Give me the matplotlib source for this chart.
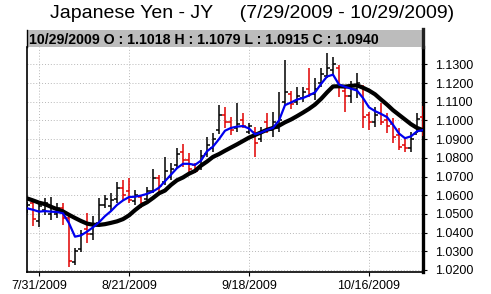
import matplotlib
matplotlib.use("Agg")
import matplotlib.pyplot as plt
from matplotlib.patches import Rectangle
import numpy as np

plt.rcParams['font.family'] = ['Liberation Sans', 'DejaVu Sans']

# ---------------- data ----------------
title = "Japanese Yen - JY     (7/29/2009 - 10/29/2009)"
header = "10/29/2009 O : 1.1018 H : 1.1079 L : 1.0915 C : 1.0940"

tick_idx = [2, 17, 37, 57]
tick_labels = ["7/31/2009", "8/21/2009", "9/18/2009", "10/16/2009"]

opens = [1.0520, 1.0560, 1.0460, 1.0520, 1.0500, 1.0500, 1.0530, 1.0480, 1.0240, 1.0310,
         1.0420, 1.0390, 1.0450, 1.0550, 1.0540, 1.0580, 1.0640, 1.0620, 1.0570, 1.0590,
         1.0580, 1.0620, 1.0690, 1.0670, 1.0700, 1.0760, 1.0830, 1.0790, 1.0760, 1.0750,
         1.0820, 1.0850, 1.0950, 1.1030, 1.0990, 1.0960, 1.1000, 1.0940, 1.0940, 1.0900,
         1.0990, 1.0950, 1.0960, 1.1100, 1.1140, 1.1100, 1.1120, 1.1170, 1.1140, 1.1200,
         1.1240, 1.1270, 1.1280, 1.1160, 1.1130, 1.1170, 1.1180, 1.1030, 1.0990, 1.1040,
         1.1000, 1.0980, 1.0920, 1.0870, 1.0850, 1.0930, 1.1018]
highs = [1.0565, 1.0571, 1.0565, 1.0583, 1.0592, 1.0557, 1.0557, 1.0503, 1.0316, 1.0414,
         1.0505, 1.0490, 1.0585, 1.0601, 1.0612, 1.0672, 1.0681, 1.0692, 1.0628, 1.0601,
         1.0645, 1.0740, 1.0708, 1.0806, 1.0771, 1.0851, 1.0872, 1.0824, 1.0771, 1.0842,
         1.0913, 1.0931, 1.1082, 1.1073, 1.1020, 1.1091, 1.1038, 1.0986, 1.0966, 1.0966,
         1.1038, 1.1047, 1.1154, 1.1323, 1.1160, 1.1180, 1.1180, 1.1279, 1.1225, 1.1279,
         1.1359, 1.1341, 1.1296, 1.1180, 1.1210, 1.1252, 1.1189, 1.1047, 1.1073, 1.1091,
         1.1038, 1.1011, 1.0958, 1.0913, 1.0940, 1.1038, 1.1079]
lows = [1.0505, 1.0437, 1.0432, 1.0494, 1.0467, 1.0476, 1.0441, 1.0218, 1.0227, 1.0298,
        1.0344, 1.0358, 1.0432, 1.0531, 1.0515, 1.0557, 1.0574, 1.0558, 1.0548, 1.0531,
        1.0574, 1.0610, 1.0619, 1.0655, 1.0681, 1.0744, 1.0752, 1.0717, 1.0717, 1.0735,
        1.0806, 1.0833, 1.0930, 1.0960, 1.0922, 1.0940, 1.0958, 1.0925, 1.0806, 1.0886,
        1.0931, 1.0913, 1.0940, 1.1080, 1.1060, 1.1082, 1.1100, 1.1127, 1.1109, 1.1180,
        1.1225, 1.1243, 1.1127, 1.1047, 1.1095, 1.1118, 1.0958, 1.0949, 1.0966, 1.0975,
        1.0931, 1.0878, 1.0842, 1.0833, 1.0833, 1.0931, 1.0915]
closes = [1.0550, 1.0470, 1.0540, 1.0560, 1.0530, 1.0530, 1.0480, 1.0250, 1.0300, 1.0390,
          1.0390, 1.0440, 1.0550, 1.0580, 1.0575, 1.0640, 1.0600, 1.0575, 1.0600, 1.0560,
          1.0620, 1.0690, 1.0650, 1.0730, 1.0740, 1.0820, 1.0790, 1.0740, 1.0730, 1.0810,
          1.0870, 1.0900, 1.1030, 1.0990, 1.0950, 1.0980, 1.0970, 1.0970, 1.0880, 1.0940,
          1.0950, 1.0990, 1.1000, 1.1150, 1.1090, 1.1130, 1.1150, 1.1140, 1.1170, 1.1250,
          1.1280, 1.1300, 1.1180, 1.1130, 1.1170, 1.1200, 1.1020, 1.0990, 1.1030, 1.0990,
          1.0970, 1.0910, 1.0860, 1.0850, 1.0900, 1.1010, 1.0940]

ma_short = [1.0530, 1.0522, 1.0512, 1.0515, 1.0512, 1.0510, 1.0503, 1.0450, 1.0378, 1.0385,
            1.0405, 1.0428, 1.0455, 1.0488, 1.0515, 1.0548, 1.0572, 1.0590, 1.0592, 1.0598,
            1.0607, 1.0620, 1.0640, 1.0675, 1.0710, 1.0745, 1.0768, 1.0768, 1.0762, 1.0785,
            1.0835, 1.0860, 1.0900, 1.0945, 1.0960, 1.0967, 1.0970, 1.0957, 1.0926, 1.0935,
            1.0949, 1.0960, 1.1000, 1.1082, 1.1096, 1.1112, 1.1120, 1.1134, 1.1150, 1.1195,
            1.1235, 1.1245, 1.1192, 1.1180, 1.1170, 1.1160, 1.1120, 1.1070, 1.1050, 1.1035,
            1.1018, 1.0977, 1.0930, 1.0905, 1.0915, 1.0942, 1.0948]
ma_long = [1.0583, 1.0572, 1.0560, 1.0552, 1.0538, 1.0525, 1.0513, 1.0495, 1.0478, 1.0462,
           1.0448, 1.0442, 1.0441, 1.0445, 1.0452, 1.0460, 1.0472, 1.0492, 1.0520, 1.0545,
           1.0562, 1.0585, 1.0610, 1.0625, 1.0655, 1.0680, 1.0695, 1.0715, 1.0730, 1.0758,
           1.0780, 1.0805, 1.0820, 1.0838, 1.0855, 1.0872, 1.0890, 1.0908, 1.0922, 1.0936,
           1.0950, 1.0960, 1.0972, 1.0990, 1.1005, 1.1023, 1.1042, 1.1062, 1.1085, 1.1115,
           1.1150, 1.1182, 1.1183, 1.1181, 1.1185, 1.1188, 1.1175, 1.1160, 1.1140, 1.1112,
           1.1085, 1.1055, 1.1030, 1.1005, 1.0980, 1.0960, 1.0948]

y_ticks = [1.02, 1.03, 1.04, 1.05, 1.06, 1.07, 1.08, 1.09, 1.10, 1.11, 1.12, 1.13]

# ---------------- figure ----------------
W, H = 491, 294
fig = plt.figure(figsize=(W / 100, H / 100), dpi=100)
fig.patch.set_facecolor('white')

def fx(px):
    return px / W

def fy(py):
    return 1 - py / H

ax_l, ax_r, ax_t, ax_b = 27, 423, 47, 272
ax = fig.add_axes([fx(ax_l), fy(ax_b), fx(ax_r - ax_l), (ax_b - ax_t) / H])

n = len(closes)
x = np.arange(n)
o = np.array(opens); h = np.array(highs); l = np.array(lows); c = np.array(closes)
up = c >= o
red = '#e00000'
cols = np.where(up, 'black', red)

tw = 0.42
ax.vlines(x, l, h, colors=cols, linewidth=1.1, zorder=3)
ax.hlines(o, x - tw, x, colors=cols, linewidth=1.1, zorder=3)
ax.hlines(c, x, x + tw, colors=cols, linewidth=1.1, zorder=3)

ax.plot(x, ma_long, color='black', linewidth=3.0, zorder=4, solid_capstyle='round')
ax.plot(x, ma_short, color='#0000ee', linewidth=1.6, zorder=5)

ax.set_xlim(0, n - 1)
ax.set_ylim(1.0189, 1.1393)

ax.yaxis.tick_right()
ax.set_yticks(y_ticks)
ax.set_yticklabels([f"{v:.4f}" for v in y_ticks])
ax.set_xticks(tick_idx)
ax.set_xticklabels(tick_labels)
ax.tick_params(axis='y', length=3, width=0.8, pad=6, labelsize=9, colors='black')
ax.tick_params(axis='x', length=3, width=0.8, pad=3, labelsize=9, colors='black')

ax.grid(True, color='#b8b8b8', linestyle=(0, (1, 2)), linewidth=0.7, zorder=0)
ax.set_axisbelow(True)

for s in ['left', 'bottom']:
    ax.spines[s].set_linewidth(1.2)
ax.spines['right'].set_linewidth(2.4)
ax.spines['top'].set_visible(False)

# header box
fig.patches.append(Rectangle((fx(ax_l), fy(46.5)), fx(ax_r - ax_l), 16.5 / H,
                             transform=fig.transFigure, facecolor='#bcbcbc',
                             edgecolor='none', zorder=1))
fig.lines.append(plt.Line2D([fx(ax_r), fx(ax_r)], [fy(ax_t), fy(29)],
                            transform=fig.transFigure, color='#222222', linewidth=2.4))
fig.lines.append(plt.Line2D([fx(ax_l), fx(ax_l)], [fy(ax_t), fy(30)],
                            transform=fig.transFigure, color='black', linewidth=1.0))
fig.text(fx(29), fy(44), header, fontsize=10.2, fontweight='bold',
         ha='left', va='baseline', color='black')

fig.text(fx(252), fy(18.5), title, fontsize=14, ha='center', va='baseline', color='black')

fig.savefig('out.png', dpi=100, facecolor='white')
